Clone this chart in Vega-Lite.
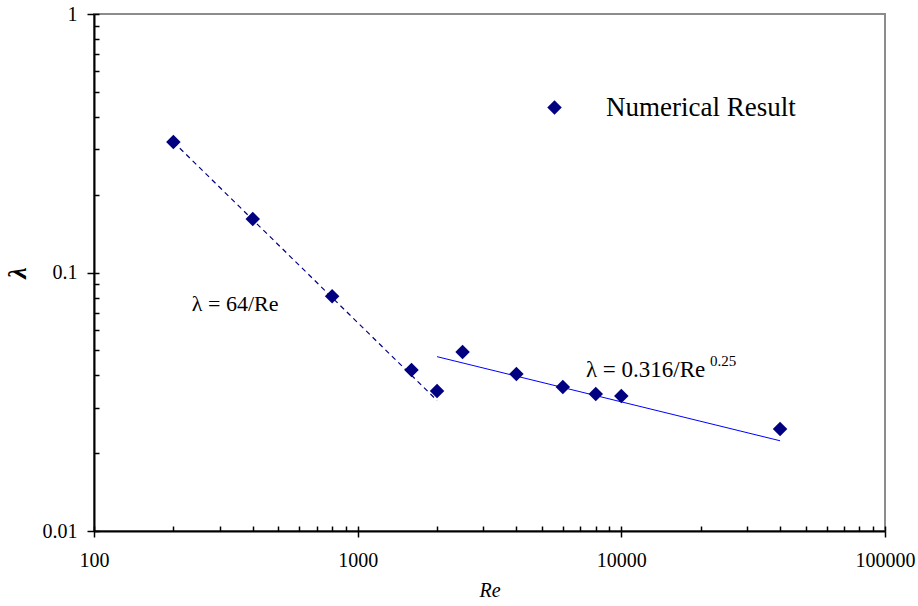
{
  "$schema": "https://vega.github.io/schema/vega-lite/v6.json",
  "width": 791,
  "height": 517,
  "autosize": {"type": "none"},
  "padding": {"left": 94, "top": 14, "right": 33, "bottom": 75},
  "background": "white",
  "config": {
    "font": "'Liberation Serif', 'Times New Roman', serif",
    "view": {"stroke": "#8c8c8c", "strokeWidth": 2},
    "axis": {"labelFont": "'Liberation Serif', 'Times New Roman', serif", "titleFont": "'Liberation Serif', 'Times New Roman', serif"},
    "text": {"font": "'Liberation Serif', 'Times New Roman', serif"}
  },
  "datasets": {
    "numerical": [
      {"Re": 200, "lambda": 0.32, "series": "Numerical Result"},
      {"Re": 400, "lambda": 0.161, "series": "Numerical Result"},
      {"Re": 800, "lambda": 0.081, "series": "Numerical Result"},
      {"Re": 1600, "lambda": 0.042, "series": "Numerical Result"},
      {"Re": 2000, "lambda": 0.0348, "series": "Numerical Result"},
      {"Re": 2500, "lambda": 0.0493, "series": "Numerical Result"},
      {"Re": 4000, "lambda": 0.0405, "series": "Numerical Result"},
      {"Re": 6000, "lambda": 0.0361, "series": "Numerical Result"},
      {"Re": 8000, "lambda": 0.0339, "series": "Numerical Result"},
      {"Re": 10000, "lambda": 0.0333, "series": "Numerical Result"},
      {"Re": 40000, "lambda": 0.0248, "series": "Numerical Result"}
    ],
    "laminar": [
      {"Re": 200, "lambda": 0.32},
      {"Re": 2000, "lambda": 0.032}
    ],
    "turbulent": [
      {"Re": 2000, "lambda": 0.04725},
      {"Re": 40000, "lambda": 0.02234}
    ],
    "notes": [
      {"Re": 235, "lambda": 0.071, "text": "λ = 64/Re", "size": "big"}
    ],
    "notes2": [
      {"Re": 7341, "lambda": 0.0394, "text": "λ = 0.316/Re"}
    ],
    "sup": [
      {"Re": 21700, "lambda": 0.0435, "text": "0.25"}
    ]
  },
  "layer": [
    {
      "data": {"name": "laminar"},
      "mark": {"type": "line", "color": "#000080", "strokeWidth": 1.2, "strokeDash": [5, 4]},
      "encoding": {
        "x": {"field": "Re", "type": "quantitative",
          "scale": {"type": "log", "domain": [100, 100000], "nice": false},
          "axis": {"orient": "bottom", "values": [100, 1000, 10000, 100000], "tickSize": 6, "tickColor": "black", "tickWidth": 1.5, "labels": false, "domain": false, "grid": false, "title": null}},
        "y": {"field": "lambda", "type": "quantitative",
          "scale": {"type": "log", "domain": [0.01, 1], "nice": false},
          "axis": {"orient": "left", "values": [0.01, 0.1, 1], "tickSize": 7, "tickColor": "black", "tickWidth": 1.5, "labels": false, "domain": false, "grid": false, "title": null}}
      }
    },
    {
      "data": {"name": "turbulent"},
      "mark": {"type": "line", "color": "#0000ff", "strokeWidth": 1},
      "encoding": {
        "x": {"field": "Re", "type": "quantitative", "axis": null},
        "y": {"field": "lambda", "type": "quantitative", "axis": null}
      }
    },
    {
      "data": {"name": "numerical"},
      "mark": {"type": "point", "shape": "diamond", "filled": true, "size": 210, "opacity": 1},
      "encoding": {
        "x": {"field": "Re", "type": "quantitative",
          "axis": {"orient": "bottom", "title": "Re",
            "values": [100, 200, 300, 400, 500, 600, 700, 800, 900, 1000, 2000, 3000, 4000, 5000, 6000, 7000, 8000, 9000, 10000, 20000, 30000, 40000, 50000, 60000, 70000, 80000, 90000, 100000],
            "labelExpr": "indexof([100, 1000, 10000, 100000], datum.value) >= 0 ? '' + datum.value : ''",
            "tickSize": -5, "tickColor": "black", "tickWidth": 1.5,
            "domainColor": "black", "domainWidth": 2,
            "grid": false, "labelFont": "'Liberation Serif', 'Times New Roman', serif", "labelFontSize": 20, "labelColor": "black",
            "labelPadding": 24, "labelFlush": false, "labelOverlap": false,
            "titleFont": "'Liberation Serif', 'Times New Roman', serif", "titleFontSize": 20, "titleFontStyle": "italic", "titleFontWeight": "normal", "titleColor": "black", "titlePadding": 10}},
        "y": {"field": "lambda", "type": "quantitative",
          "axis": {"orient": "left", "title": "λ",
            "values": [0.01, 0.02, 0.03, 0.04, 0.05, 0.06, 0.07, 0.08, 0.09, 0.1, 0.2, 0.3, 0.4, 0.5, 0.6, 0.7, 0.8, 0.9, 1],
            "labelExpr": "indexof([0.01, 0.1, 1], datum.value) >= 0 ? '' + datum.value : ''",
            "tickSize": -5, "tickColor": "black", "tickWidth": 1.5,
            "domainColor": "black", "domainWidth": 2,
            "grid": false, "labelFont": "'Liberation Serif', 'Times New Roman', serif", "labelFontSize": 20, "labelColor": "black",
            "labelPadding": 22, "labelFlush": false, "labelOverlap": false,
            "titleFont": "'Liberation Serif', 'Times New Roman', serif", "titleFontSize": 26, "titleFontStyle": "italic", "titleFontWeight": "bold", "titleColor": "black", "titlePadding": 12}},
        "color": {"field": "series", "type": "nominal",
          "scale": {"range": ["#000080"]},
          "legend": {"orient": "none", "legendX": 447, "legendY": 80, "title": null, "padding": 0,
            "symbolType": "diamond", "symbolSize": 210, "symbolFillColor": "#000080", "symbolStrokeWidth": 0,
            "labelFont": "'Liberation Serif', 'Times New Roman', serif", "labelFontSize": 27, "labelColor": "black", "labelOffset": 38, "labelLimit": 400}}
      }
    },
    {
      "data": {"name": "notes"},
      "mark": {"type": "text", "align": "left", "baseline": "alphabetic", "font": "'Liberation Serif', 'Times New Roman', serif", "fontSize": 22, "color": "black"},
      "encoding": {
        "x": {"field": "Re", "type": "quantitative", "axis": null},
        "y": {"field": "lambda", "type": "quantitative", "axis": null},
        "text": {"field": "text"}
      }
    },
    {
      "data": {"name": "notes2"},
      "mark": {"type": "text", "align": "left", "baseline": "alphabetic", "font": "'Liberation Serif', 'Times New Roman', serif", "fontSize": 23, "color": "black"},
      "encoding": {
        "x": {"field": "Re", "type": "quantitative", "axis": null},
        "y": {"field": "lambda", "type": "quantitative", "axis": null},
        "text": {"field": "text"}
      }
    },
    {
      "data": {"name": "sup"},
      "mark": {"type": "text", "align": "left", "baseline": "alphabetic", "font": "'Liberation Serif', 'Times New Roman', serif", "fontSize": 15, "color": "black"},
      "encoding": {
        "x": {"field": "Re", "type": "quantitative", "axis": null},
        "y": {"field": "lambda", "type": "quantitative", "axis": null},
        "text": {"field": "text"}
      }
    }
  ],
  "resolve": {"axis": {"x": "independent", "y": "independent"}}
}
